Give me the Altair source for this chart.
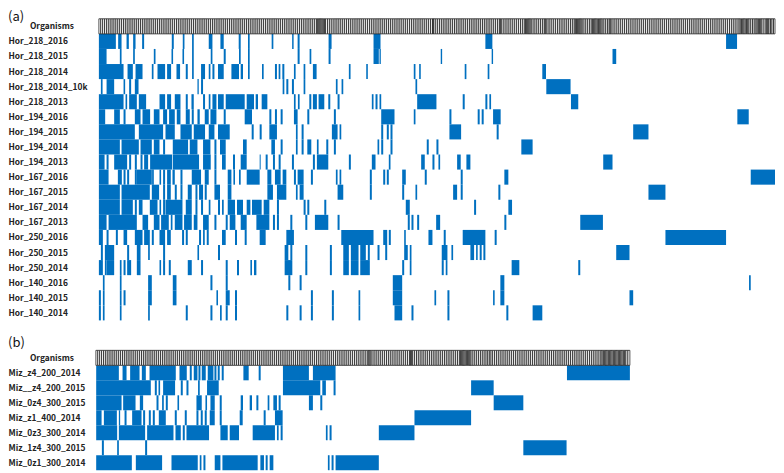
import altair as alt
import numpy as np
import pandas as pd

BLUE = "#0070C0"
FONT = "Noto Sans CJK JP"

rows_a = ["Organisms", "Hor_218_2016", "Hor_218_2015", "Hor_218_2014", "Hor_218_2014_10k", "Hor_218_2013",
          "Hor_194_2016", "Hor_194_2015", "Hor_194_2014", "Hor_194_2013",
          "Hor_167_2016", "Hor_167_2015", "Hor_167_2014", "Hor_167_2013",
          "Hor_250_2016", "Hor_250_2015", "Hor_250_2014",
          "Hor_140_2016", "Hor_140_2015", "Hor_140_2014"]
rows_b = ["Organisms", "Miz_z4_200_2014", "Miz__z4_200_2015", "Miz_0z4_300_2015", "Miz_z1_400_2014",
          "Miz_0z3_300_2014", "Miz_1z4_300_2015", "Miz_0z1_300_2014"]

# Presence spans along the ordered organism axis, one list per sample
hor_218_2016 = [(99,116),(118.3,121.7),(126.7,129),(133.3,135.7),(142.3,144.3),(172,174),(183,184.7),(192.3,194),(209,212.7),(220.7,224),(239,241),(248.3,250),(272,273.7),(292.5,294),(298,300),(329,332),(374,381),(486,493),(727,738)]
hor_218_2015 = [(99,106.7),(120,121.7),(133.3,135),(154,155.7),(171.7,173.3),(182.7,184.3),(192.3,194),(211,212.7),(224,226),(239.3,241),(248.3,250),(298,300),(310,311.7),(329,331),(374,379.3),(380,381.3),(441.3,442.7),(492.3,493.7),(613.3,617)]
hor_218_2014 = [(99,123.7),(127.7,133),(135.7,142.7),(152,153.7),(157.7,165.3),(167.3,171.3),(176.7,180.3),(186,188),(192.3,194),(201.3,205.3),(209,210.7),(212.7,214.7),(218.3,224),(231.7,239.3),(241,243.3),(248.3,250),(262.3,264),(275.3,277.3),(279,280.7),(282.7,284.7),(294.3,296),(304,305.7),(313.3,317),(349.3,351),(366.7,368.3),(414.3,416),(419.7,421.3),(465.3,467),(488.3,490),(543,546.7)]
hor_218_2014_10k = [(101,102.7),(106.7,114.3),(123.7,125.3),(129.3,131.3),(135,138.7),(197.7,199),(201.3,203.3),(283,284.7),(286.7,288.7),(292.3,294.3),(304,305.7),(336.3,338),(342,343.7),(416,417.7),(547,571.3)]
hor_218_2013 = [(99,123.7),(125.7,127.3),(129.3,137),(139,146.3),(159.7,165.3),(167.3,171.3),(175,180.7),(186,188),(191.7,194),(203.3,205.3),(209,210.7),(212.7,216.7),(218.3,224),(226,245),(247,254.3),(256,258.3),(262,267.7),(294.3,296),(298.3,300),(309.7,311.7),(313.3,317.3),(319,324.7),(328.7,330.7),(338,340),(372.3,374),(376,378),(380,381.7),(417.7,437),(463.3,465.3),(486,488),(490,491.7),(571.7,579)]
hor_194_2016 = [(99,105.3),(114.3,120),(123.7,125.7),(135,140.7),(142.7,150.3),(154,159.7),(163.3,167.3),(169.3,175),(177,180.7),(186,190),(192,194),(197.7,200),(205,209),(210.7,216.7),(224,226),(245,252.3),(269.7,271.7),(275.3,277.3),(281,283),(294.3,298),(307.7,309.7),(334.3,336.3),(381.7,395),(414.3,416),(450,452),(478.3,480.3),(482.3,484.3),(493.7,501.3),(738.3,749.7)]
hor_194_2015 = [(99,135),(139,163.3),(165.7,175),(180.7,192),(194,205.3),(209,214.7),(218.3,230),(252,254),(260,262),(269.7,277.3),(296.3,298),(302,304),(332.3,338),(340,341.7),(381.7,383.7),(387.3,389.3),(391,393),(450,461.7),(497.3,499.3),(634,649.3)]
hor_194_2014 = [(99,120),(121.7,139),(140.7,152),(154,159.7),(163.3,165.3),(173,188.3),(190,197.7),(203.3,210.7),(214.7,216.7),(220.3,226),(243.3,247),(271.7,275.3),(281,283),(296.3,298),(302,304),(307.7,311.7),(317.3,319),(326.7,328.7),(334.3,336.3),(378,379.7),(381.7,383.7),(391,393),(427.3,429.3),(437,439),(522,533.3)]
hor_194_2013 = [(99,104.7),(106.7,108.7),(114.3,127.3),(129.3,131.3),(135,137),(140.7,142.7),(144.3,148.3),(150.3,172.3),(173,199.3),(203.3,211),(214.7,216.7),(222.3,226),(233.3,235.3),(241,247),(260,261),(266,268),(273.3,275.3),(279,281),(292.3,294.3),(313.3,315.3),(317.3,328.7),(349.3,351.3),(372.3,376),(389.3,391),(421.7,425.3),(433,435),(439,440.7),(457.7,461.3),(467,471),(604,613.3)]
hor_167_2016 = [(99,108.7),(118,122),(123.7,125.7),(127.3,129.3),(135,137),(137,152),(152.3,154),(159.7,161.3),(163.3,165.3),(167.3,171),(172.7,175),(180.7,182.7),(192,201.3),(205,209),(214.7,216.7),(228,231.7),(233.7,235.3),(239.3,241),(247,260),(267.7,271.7),(275.3,281),(283,286.7),(294.3,296.3),(298,304),(311.3,313.3),(336.3,338),(340,341.7),(370.3,372.3),(383.7,385.7),(387.3,389.3),(402.7,406.3),(425.3,427.3),(461.3,463.3),(505,509),(751.7,782.7)]
hor_167_2015 = [(99,120),(121.7,150),(152,159.3),(163.3,165.3),(167.3,171),(175,177),(180.7,182.7),(188,192),(195.7,197.7),(199.3,203.3),(205,207),(214.7,220.3),(228,231.7),(267.7,273.3),(277.3,286.7),(296.3,298),(300,304),(338,343.7),(370.3,372.3),(402.7,404.7),(416,417.7),(453.7,457.7),(461.3,463.3),(499,501),(649.3,666.3)]
hor_167_2014 = [(99,120),(121.7,133),(135,137),(139,142.7),(150,157.7),(159.7,161.3),(163.3,165.3),(165.7,182.7),(186,192),(195.7,197.7),(201.3,203.3),(209,210.7),(218.3,220.3),(222.3,224),(228,235.3),(237.3,243.3),(247,250.7),(252.3,262),(264,269.7),(277.3,279.3),(304,306),(307.7,309.7),(324.7,326.7),(406.3,410.3),(474.7,476.7),(509,512.7)]
hor_167_2013 = [(99,106.7),(108.7,137),(142.7,148.3),(154,159.7),(161.3,169),(171,172.7),(175,182.7),(184.3,192),(194,197.7),(203.3,209),(214.7,216.7),(226,228),(230,235.7),(241,247),(256.7,269.7),(273.3,275.3),(277.3,279.3),(290.7,292.7),(305.7,307.7),(315.3,328.7),(338,340),(408.3,410.3),(412,414),(417.7,419.7),(436.7,440.7),(505,507),(581,603.7)]
hor_250_2016 = [(99,103),(106.7,108.7),(116,118),(123.7,127.3),(135,142.7),(144.3,150),(152,154),(159.7,165.3),(167.3,171),(182.3,184.3),(186,188),(199.3,201.3),(203.3,205),(207,209),(222.3,226),(235.3,237.3),(245,247),(260,266),(286.7,294.3),(341.7,374),(383.7,387.7),(389.3,391.3),(404.7,406.3),(429,433),(444.3,446.3),(463.3,486),(495.3,497.3),(666.3,727)]
hor_250_2015 = [(101,103),(105,114.3),(127.3,129.3),(137,140.7),(148.3,150),(163.3,165.3),(197.7,199.3),(218.3,220.3),(285,288.7),(290.7,292.7),(305.7,307.7),(330.3,332.3),(343.7,349.3),(351.3,359),(360.7,366.3),(368.3,370.3),(378,380),(385.7,387.7),(404.7,408.3),(410.3,412),(442.3,448),(452,453.7),(471,474.7),(476.7,478.3),(480.3,482.3),(484,486),(617,630.3)]
hor_250_2014 = [(99,103),(105,106.7),(106.7,114.3),(120,121.7),(123.7,125.7),(127.3,131.3),(137,140.7),(159.7,161.3),(163.3,165.3),(169,171),(188,192),(201.3,203.3),(226,228),(237.3,239.3),(250.7,252.3),(254.3,256.7),(285,292.7),(305.7,307.7),(330.3,332.3),(343.7,349.3),(351.3,359),(360.7,370.3),(402.7,404.7),(410.3,412),(442.3,444.3),(446.3,448),(512.3,520),(579,581)]
hor_140_2016 = [(103,104.7),(120,121.7),(148.3,152),(173,176.7),(210.7,212.7),(226,228),(288.7,290.7),(300,302),(393.3,402.7),(501,505),(750,751.7)]
hor_140_2015 = [(99,101),(103,104.7),(120,121.7),(123.7,125.7),(148.3,152),(173,176.7),(216.7,218.3),(226,230),(235.3,237.3),(311.3,313.3),(332.3,334.3),(359,360.7),(393.3,402.7),(435,436.7),(448,450),(493.7,495.3),(501,505),(630.3,634)]
hor_140_2014 = [(99,101),(103,104.7),(120,121.7),(148.3,150),(186,188),(210.7,212.7),(220.3,222),(226,228),(235.3,237.3),(286.7,288.7),(300,302),(311.3,313.3),(332.3,334.3),(359,360.7),(395,402.7),(412,414),(448,450),(507,509),(533.3,543)]

miz_z4_200_2014 = [(96.3,119),(122.7,126.7),(130.3,139.7),(142,146),(149.7,176),(179.7,187),(190,192),(194,197.7),(198.7,200.7),(202,206),(208,213.7),(214.7,216.7),(218,220),(222,224),(243.7,249),(259,261),(283.3,309.3),(313.3,336),(567.7,630.7)]
miz__z4_200_2015 = [(96.3,151),(155,157),(158.7,160.3),(163.3,175.3),(181,183),(186.7,188.7),(198.3,200),(207.3,219),(283.3,320.7),(322.7,326.3),(334,336),(471.7,494.3)]
miz_0z4_300_2015 = [(96.3,121.7),(123.3,135.7),(140,143.3),(156.7,158.7),(162.3,164),(166,168),(177.7,179.3),(196.7,202),(205.7,207.3),(210.7,215),(220,222),(241,243.3),(250,252.3),(256.7,258.7),(268,269.7),(273.7,277.3),(279,281),(309.3,313.3),(320.7,322.7),(494.3,524)]
miz_z1_400_2014 = [(96.3,101.7),(104,117),(119,120.3),(124.7,126.7),(132.3,141.7),(143.3,145.3),(149,151),(153,155),(159,166),(175,177),(185,187),(196.7,198.7),(201,203),(205,207),(210,215),(220,222),(240,243),(264,266),(275.3,283),(415,471.7)]
miz_0z3_300_2014 = [(96.3,117.3),(119,145.3),(147.3,173.7),(175.7,181),(183,185),(186.7,209.3),(220.7,228),(230,239.3),(253,275.3),(277.3,279),(281,283),(326.3,328),(330,332),(379.3,415)]
miz_1z4_300_2015 = [(102,104),(117.3,119),(145.3,147.3),(524,567.3)]
miz_0z1_300_2014 = [(96.3,132),(136,162.3),(171.7,198),(200,201.7),(203.7,205.7),(215,220.7),(222.7,258),(260.7,264.3),(266,268),(270,273.7),(328.3,330),(332,334),(336,379.3)]

spans_a = [hor_218_2016, hor_218_2015, hor_218_2014, hor_218_2014_10k, hor_218_2013,
           hor_194_2016, hor_194_2015, hor_194_2014, hor_194_2013,
           hor_167_2016, hor_167_2015, hor_167_2014, hor_167_2013,
           hor_250_2016, hor_250_2015, hor_250_2014,
           hor_140_2016, hor_140_2015, hor_140_2014]
spans_b = [miz_z4_200_2014, miz__z4_200_2015, miz_0z4_300_2015, miz_z1_400_2014,
           miz_0z3_300_2014, miz_1z4_300_2015, miz_0z1_300_2014]

# Organism header: run boundaries along the axis and how many organisms sit in each run
head_a_edges = [99, 317, 326, 433, 434.5, 500, 502, 525, 532, 545, 547, 575, 583, 592, 603, 610, 612, 740, 750, 757, 763, 767, 770, 776]
head_a_counts = [115, 8, 56, 2, 35, 2, 12, 6, 7, 2, 15, 7, 5, 9, 4, 2, 67, 8, 4, 5, 2, 3, 4]
head_b_edges = [96, 368.3, 371.7, 410, 413.3, 460, 471.7, 486.7, 493.3, 601.7, 626.7, 630.7]
head_b_counts = [143, 3, 20, 3, 25, 10, 8, 4, 57, 20, 2]


def header_cells(edges, counts):
    out = []
    for a, b, n in zip(edges[:-1], edges[1:], counts):
        grid = np.linspace(a, b, n + 1)
        out += [(float(p), float(q)) for p, q in zip(grid[:-1], grid[1:])]
    return out


def frame(names, spans):
    return pd.DataFrame([{"row": r, "start": s, "end": e} for r, sp in zip(names, spans) for s, e in sp])


def panel(names, spans, head, tag, h, tag_y):
    y = alt.Y("row:N", scale=alt.Scale(domain=names, paddingInner=0, paddingOuter=0),
              axis=alt.Axis(title=None, domain=False, ticks=False, labelAlign="left", labelPadding=88,
                            labelFont=FONT, labelFontWeight="bold", labelFontSize=8.4, labelColor="#222222",
                            labelExpr="datum.label == 'Organisms' ? '' : datum.label"))
    x = alt.X("start:Q", scale=alt.Scale(domain=[96, 776], nice=False, zero=False, clamp=True), axis=None)
    bars = alt.Chart(frame(names[1:], spans)).mark_rect(color=BLUE).encode(x=x, x2="end:Q", y=y)
    hd = pd.DataFrame([{"row": "Organisms", "start": s, "end": e} for s, e in head])
    cells = alt.Chart(hd).mark_rect(fill="white", stroke="#1a1a1a", strokeWidth=0.75).encode(x=x, x2="end:Q", y=y)
    org = alt.Chart(pd.DataFrame({"row": ["Organisms"], "t": ["Organisms"]})).mark_text(
        font=FONT, fontWeight="bold", fontSize=8.4, color="#222222", align="center").encode(
        x=alt.value(-44), y=y, text="t:N")
    lab = alt.Chart(pd.DataFrame({"t": [tag]})).mark_text(
        font=FONT, fontSize=13, color="#111111", align="left", baseline="alphabetic").encode(
        x=alt.value(-88), y=alt.value(tag_y), text="t:N")
    return alt.layer(bars, cells, org, lab).properties(width=680, height=h)


chart = alt.vconcat(
    panel(rows_a, spans_a, header_cells(head_a_edges, head_a_counts), "(a)", 302, 2),
    panel(rows_b, spans_b, header_cells(head_b_edges, head_b_counts), "(b)", 120, -3),
    spacing=30, bounds="flush",
).resolve_scale(x="independent", y="independent").configure_view(stroke=None).properties(
    padding={"top": 2.5, "left": 0, "right": 0, "bottom": 0})

chart.save("out.html", embed_options={"renderer": "svg", "actions": False})
